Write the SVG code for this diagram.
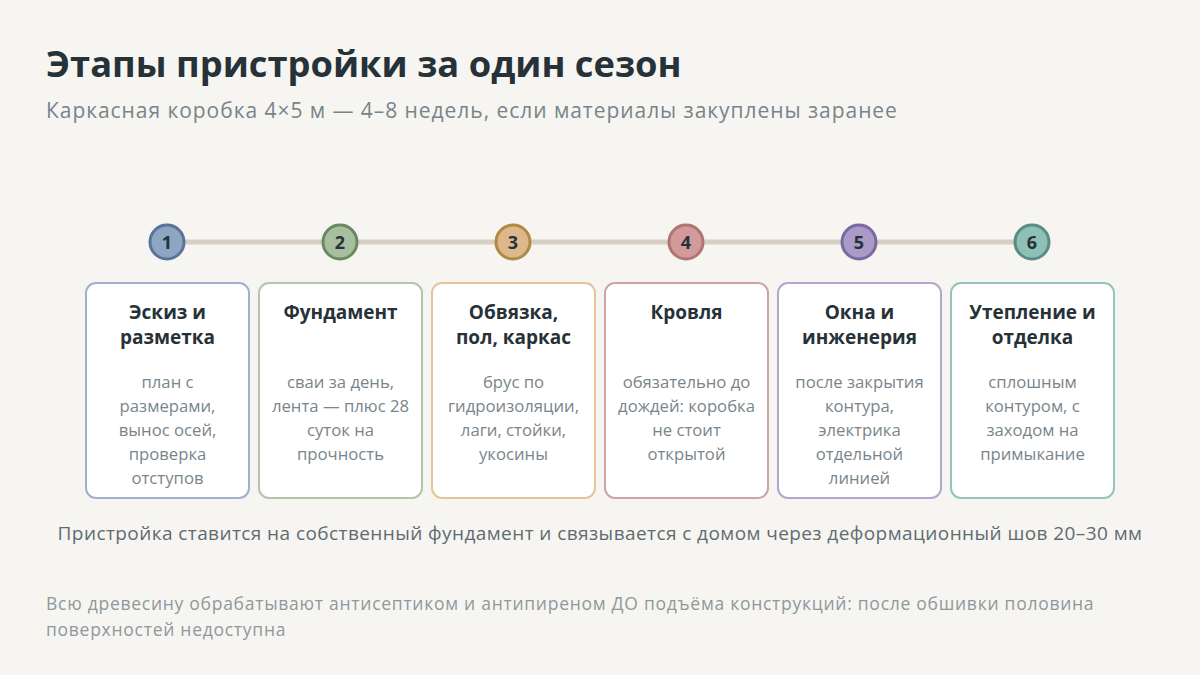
<svg xmlns="http://www.w3.org/2000/svg" width="1200" height="675" viewBox="0 0 1200 675">
<style>
text{font-family:"Open Sans","Noto Sans","DejaVu Sans",sans-serif}
.title{font-size:36.3px;font-weight:700;fill:#263238}
.sub{font-size:21px;fill:#78848a;letter-spacing:0.95px}
.card{fill:#ffffff;stroke-width:2}
.num{font-size:18px;font-weight:700;fill:#263238;text-anchor:middle}
.ct{font-size:19px;font-weight:700;fill:#263238;text-anchor:middle}
.cb{font-size:16.7px;fill:#7a858b;text-anchor:middle}
.note{font-size:19px;fill:#5f6b70;text-anchor:middle;letter-spacing:0.42px}
.foot{font-size:17.5px;fill:#8f989c;letter-spacing:0.73px}
.dot{stroke-width:3}
</style>
<rect width="1200" height="675" fill="#f6f5f2"/>
<text class="title" x="46" y="77">Этапы пристройки за один сезон</text>
<text class="sub" x="46" y="118">Каркасная коробка 4×5 м — 4–8 недель, если материалы закуплены заранее</text>
<g id="connectors">
<line x1="167" y1="242" x2="1032" y2="242" stroke="#d6cfc4" stroke-width="5"/>
</g>
<g id="step1">
<circle class="dot" cx="167" cy="242" r="17" fill="#8fa5c4" stroke="#5b7396"/>
<text class="num" x="167" y="248.5">1</text>
<rect class="card" x="86" y="283" width="163" height="215" rx="10" stroke="#9fb1cc"/>
<text class="ct" x="167.5" y="319">Эскиз и</text>
<text class="ct" x="167.5" y="344">разметка</text>
<text class="cb" x="167.5" y="388">план с</text>
<text class="cb" x="167.5" y="412">размерами,</text>
<text class="cb" x="167.5" y="436">вынос осей,</text>
<text class="cb" x="167.5" y="460">проверка</text>
<text class="cb" x="167.5" y="484">отступов</text>
</g>
<g id="step2">
<circle class="dot" cx="340" cy="242" r="17" fill="#a8bf9f" stroke="#6b8a62"/>
<text class="num" x="340" y="248.5">2</text>
<rect class="card" x="259" y="283" width="163" height="215" rx="10" stroke="#b3c6aa"/>
<text class="ct" x="340.5" y="319">Фундамент</text>
<text class="cb" x="340.5" y="388">сваи за день,</text>
<text class="cb" x="340.5" y="412">лента — плюс 28</text>
<text class="cb" x="340.5" y="436">суток на</text>
<text class="cb" x="340.5" y="460">прочность</text>
</g>
<g id="step3">
<circle class="dot" cx="513" cy="242" r="17" fill="#dcb88a" stroke="#b08a45"/>
<text class="num" x="513" y="248.5">3</text>
<rect class="card" x="432" y="283" width="163" height="215" rx="10" stroke="#e4c59a"/>
<text class="ct" x="513.5" y="319">Обвязка,</text>
<text class="ct" x="513.5" y="344">пол, каркас</text>
<text class="cb" x="513.5" y="388">брус по</text>
<text class="cb" x="513.5" y="412">гидроизоляции,</text>
<text class="cb" x="513.5" y="436">лаги, стойки,</text>
<text class="cb" x="513.5" y="460">укосины</text>
</g>
<g id="step4">
<circle class="dot" cx="686" cy="242" r="17" fill="#d49a9a" stroke="#b07474"/>
<text class="num" x="686" y="248.5">4</text>
<rect class="card" x="605" y="283" width="163" height="215" rx="10" stroke="#cfa3a3"/>
<text class="ct" x="686.5" y="319">Кровля</text>
<text class="cb" x="686.5" y="388">обязательно до</text>
<text class="cb" x="686.5" y="412">дождей: коробка</text>
<text class="cb" x="686.5" y="436">не стоит</text>
<text class="cb" x="686.5" y="460">открытой</text>
</g>
<g id="step5">
<circle class="dot" cx="859" cy="242" r="17" fill="#a99ac8" stroke="#7a6aa0"/>
<text class="num" x="859" y="248.5">5</text>
<rect class="card" x="778" y="283" width="163" height="215" rx="10" stroke="#b3a6cf"/>
<text class="ct" x="859.5" y="319">Окна и</text>
<text class="ct" x="859.5" y="344">инженерия</text>
<text class="cb" x="859.5" y="388">после закрытия</text>
<text class="cb" x="859.5" y="412">контура,</text>
<text class="cb" x="859.5" y="436">электрика</text>
<text class="cb" x="859.5" y="460">отдельной</text>
<text class="cb" x="859.5" y="484">линией</text>
</g>
<g id="step6">
<circle class="dot" cx="1032" cy="242" r="17" fill="#8fc0b8" stroke="#5a8c84"/>
<text class="num" x="1032" y="248.5">6</text>
<rect class="card" x="951" y="283" width="163" height="215" rx="10" stroke="#95c4bc"/>
<text class="ct" x="1032.5" y="319">Утепление и</text>
<text class="ct" x="1032.5" y="344">отделка</text>
<text class="cb" x="1032.5" y="388">сплошным</text>
<text class="cb" x="1032.5" y="412">контуром, с</text>
<text class="cb" x="1032.5" y="436">заходом на</text>
<text class="cb" x="1032.5" y="460">примыкание</text>
</g>
<text class="note" x="600" y="540">Пристройка ставится на собственный фундамент и связывается с домом через деформационный шов 20–30 мм</text>
<text class="foot" x="46" y="610">Всю древесину обрабатывают антисептиком и антипиреном ДО подъёма конструкций: после обшивки половина</text>
<text class="foot" x="46" y="636">поверхностей недоступна</text>
</svg>
